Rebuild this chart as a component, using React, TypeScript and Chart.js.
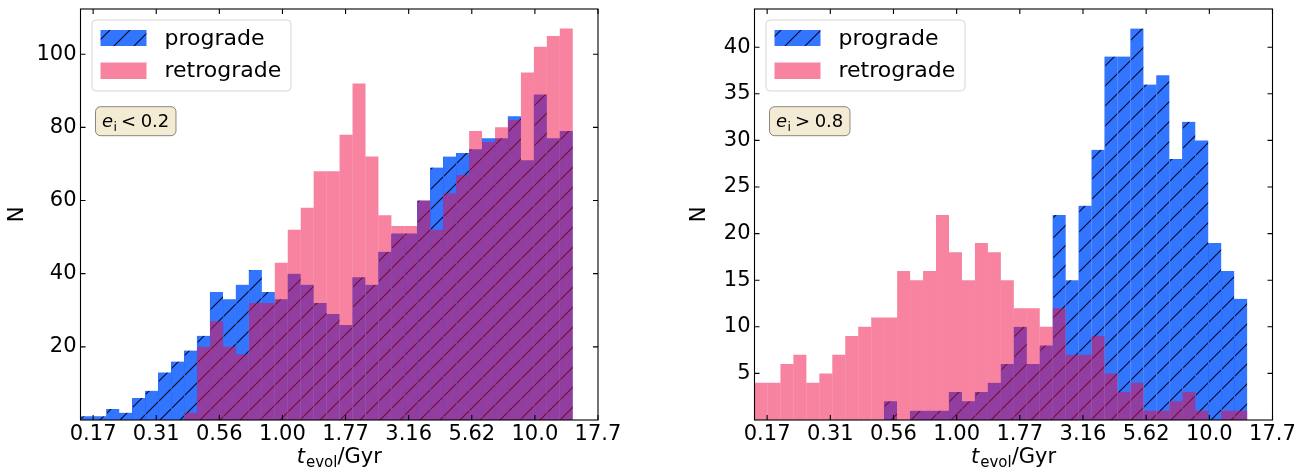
import React, { useEffect, useRef } from "react";
import { Chart, registerables } from "chart.js";

Chart.register(...registerables);

// Histogram bins in log10(t_evol / Gyr)
const BIN_START = -0.8;
const BIN_END = 1.15;
const BIN_COUNT = 38;

const X_MIN = -0.8;
const X_MAX = 1.25;
const xTickValues = [-0.75, -0.5, -0.25, 0, 0.25, 0.5, 0.75, 1.0, 1.25];
const xTickLabels = ["0.17", "0.31", "0.56", "1.00", "1.77", "3.16", "5.62", "10.0", "17.7"];

// Left panel: e_i < 0.2
const leftPrograde = [1, 1, 3, 2, 6, 8, 13, 16, 19, 23, 35, 33, 37, 41, 35, 33, 40, 37, 32, 29, 26, 39, 37, 46, 51, 51, 60, 69, 72, 73, 74, 77, 77, 83, 71, 89, 77, 79];
const leftRetrograde = [0, 0, 0, 0, 0, 0, 0, 0, 2, 20, 27, 20, 18, 32, 32, 43, 52, 58, 68, 68, 78, 92, 72, 56, 53, 53, 60, 52, 62, 67, 79, 76, 80, 82, 95, 102, 105, 107];
const leftYTicks = [20, 40, 60, 80, 100];
const leftYMax = 112.35;

// Right panel: e_i > 0.8
const rightPrograde = [0, 0, 0, 0, 0, 0, 0, 0, 0, 0, 2, 0, 1, 1, 1, 3, 2, 3, 4, 6, 10, 6, 8, 22, 15, 23, 29, 39, 39, 42, 36, 37, 28, 32, 30, 19, 16, 13];
const rightRetrograde = [4, 4, 6, 7, 4, 5, 7, 9, 10, 11, 11, 16, 15, 16, 22, 18, 15, 19, 18, 15, 12, 12, 10, 12, 7, 7, 9, 5, 3, 4, 1, 1, 2, 3, 1, 0, 1, 1];
const rightYTicks = [5, 10, 15, 20, 25, 30, 35, 40];
const rightYMax = 44.1;

const seriesLabels = ["prograde", "retrograde"];

const BLUE = "rgb(50,117,255)";
const BLUE_EDGE = "rgba(20,95,250,0.9)";
const PINK = "rgba(239,8,66,0.5)";
const FONT = '"DejaVu Sans", "Liberation Sans", sans-serif';
const W = 1303;
const H = 471;

type Panel = {
  canvasLeft: number;
  canvasWidth: number;
  areaLeft: number;
  areaRight: number;
  yMax: number;
  yTicks: number[];
  prograde: number[];
  retrograde: number[];
  rel: string;
  val: string;
};

const panels: Panel[] = [
  { canvasLeft: 0, canvasWidth: 651, areaLeft: 80.5, areaRight: 598, yMax: leftYMax, yTicks: leftYTicks, prograde: leftPrograde, retrograde: leftRetrograde, rel: "<", val: "0.2" },
  { canvasLeft: 651, canvasWidth: 652, areaLeft: 103.5, areaRight: 621.5, yMax: rightYMax, yTicks: rightYTicks, prograde: rightPrograde, retrograde: rightRetrograde, rel: ">", val: "0.8" },
];

const AREA_TOP = 9;
const AREA_BOTTOM = 420;

function binCenters(): number[] {
  const w = (BIN_END - BIN_START) / BIN_COUNT;
  const out: number[] = [];
  for (let i = 0; i < BIN_COUNT; i++) out.push(BIN_START + (i + 0.5) * w);
  return out;
}

function makeHatch(): CanvasPattern | string {
  const c = document.createElement("canvas");
  c.width = 100;
  c.height = 100;
  const g = c.getContext("2d");
  if (!g) return BLUE;
  g.fillStyle = BLUE;
  g.fillRect(0, 0, 100, 100);
  g.strokeStyle = "rgba(0,0,20,0.95)";
  g.lineWidth = 1.1;
  for (let k = -6; k <= 16; k++) {
    const cst = k * 20;
    g.beginPath();
    g.moveTo(cst - 150, 150);
    g.lineTo(cst + 150, -150);
    g.stroke();
  }
  const p = g.createPattern(c, "repeat");
  return p || BLUE;
}

function roundRect(ctx: CanvasRenderingContext2D, x: number, y: number, w: number, h: number, r: number) {
  ctx.beginPath();
  ctx.moveTo(x + r, y);
  ctx.lineTo(x + w - r, y);
  ctx.arcTo(x + w, y, x + w, y + r, r);
  ctx.lineTo(x + w, y + h - r);
  ctx.arcTo(x + w, y + h, x + w - r, y + h, r);
  ctx.lineTo(x + r, y + h);
  ctx.arcTo(x, y + h, x, y + h - r, r);
  ctx.lineTo(x, y + r);
  ctx.arcTo(x, y, x + r, y, r);
  ctx.closePath();
}

function PanelChart({ panel }: { panel: Panel }) {
  const ref = useRef<HTMLCanvasElement | null>(null);
  useEffect(() => {
    const canvas = ref.current;
    if (!canvas) return;
    const hatch = makeHatch();
    const centers = binCenters();

    const decor = {
      id: "decor",
      afterDatasetsDraw(chart: any) {
        const ctx: CanvasRenderingContext2D = chart.ctx;
        const ca = chart.chartArea;
        const xs = chart.scales.x;
        const ys = chart.scales.y;
        ctx.save();
        // frame
        ctx.strokeStyle = "#000";
        ctx.lineWidth = 1.1;
        ctx.strokeRect(ca.left, ca.top, ca.right - ca.left, ca.bottom - ca.top);
        // inward ticks
        const TL = 5;
        ctx.beginPath();
        for (const v of xTickValues) {
          const px = xs.getPixelForValue(v);
          ctx.moveTo(px, ca.bottom);
          ctx.lineTo(px, ca.bottom - TL);
          ctx.moveTo(px, ca.top);
          ctx.lineTo(px, ca.top + TL);
        }
        for (const v of panel.yTicks) {
          const py = ys.getPixelForValue(v);
          ctx.moveTo(ca.left, py);
          ctx.lineTo(ca.left + TL, py);
          ctx.moveTo(ca.right, py);
          ctx.lineTo(ca.right - TL, py);
        }
        ctx.stroke();

        const L = ca.left;
        const T = ca.top;
        // legend
        roundRect(ctx, L + 11.5, T + 11, 199, 71, 4);
        ctx.fillStyle = "rgba(255,255,255,0.8)";
        ctx.fill();
        ctx.strokeStyle = "rgba(204,204,204,0.8)";
        ctx.lineWidth = 1;
        ctx.stroke();
        ctx.fillStyle = hatch as any;
        ctx.fillRect(L + 20, T + 21, 46, 16);
        ctx.fillStyle = PINK;
        ctx.fillRect(L + 20, T + 53.5, 46, 16.5);
        ctx.fillStyle = "#000";
        ctx.font = `22px ${FONT}`;
        ctx.textBaseline = "alphabetic";
        ctx.textAlign = "left";
        ctx.fillText(chart.data.datasets[1].label, L + 84, T + 36.3);
        ctx.fillText(chart.data.datasets[0].label, L + 84, T + 68.3);

        // annotation box
        roundRect(ctx, L + 15, T + 97.7, 80.5, 29, 5);
        ctx.fillStyle = "rgb(243,235,212)";
        ctx.fill();
        ctx.strokeStyle = "rgba(0,0,0,0.45)";
        ctx.lineWidth = 1;
        ctx.stroke();
        ctx.fillStyle = "#000";
        let tx = L + 21.5;
        const tb = T + 118;
        ctx.font = `italic 18px ${FONT}`;
        ctx.fillText("e", tx, tb);
        tx += ctx.measureText("e").width;
        ctx.font = `12.5px ${FONT}`;
        ctx.fillText("i", tx + 0.5, tb + 3.5);
        tx += ctx.measureText("i").width + 4.5;
        ctx.font = `18px ${FONT}`;
        ctx.fillText(panel.rel, tx, tb);
        tx += ctx.measureText(panel.rel).width + 4.5;
        ctx.fillText(panel.val, tx, tb);

        // y title
        ctx.save();
        ctx.translate(panel.canvasLeft === 0 ? 18 : 700 - panel.canvasLeft, (ca.top + ca.bottom) / 2);
        ctx.rotate(-Math.PI / 2);
        ctx.font = `21px ${FONT}`;
        ctx.textAlign = "center";
        ctx.textBaseline = "middle";
        ctx.fillText("N", 0, 0);
        ctx.restore();

        // x title: t_evol/Gyr
        const big = `21px ${FONT}`;
        const bigIt = `italic 21px ${FONT}`;
        const small = `15px ${FONT}`;
        ctx.font = bigIt;
        const w1 = ctx.measureText("t").width;
        ctx.font = small;
        const w2 = ctx.measureText("evol").width;
        ctx.font = big;
        const w3 = ctx.measureText("/Gyr").width;
        const total = w1 + 1 + w2 + w3;
        let x0 = (ca.left + ca.right) / 2 - total / 2;
        const base = 463;
        ctx.textAlign = "left";
        ctx.textBaseline = "alphabetic";
        ctx.font = bigIt;
        ctx.fillText("t", x0, base);
        x0 += w1 + 1;
        ctx.font = small;
        ctx.fillText("evol", x0, base + 4);
        x0 += w2;
        ctx.font = big;
        ctx.fillText("/Gyr", x0, base);
        ctx.restore();
      },
    };

    const chart = new Chart(canvas, {
      type: "bar",
      data: {
        datasets: [
          {
            label: seriesLabels[1],
            data: centers.map((x, i) => ({ x, y: panel.retrograde[i] })),
            backgroundColor: PINK,
            borderWidth: 0,
            inflateAmount: 0,
            grouped: false,
            order: 0,
            barPercentage: 1,
            categoryPercentage: 1,
          },
          {
            label: seriesLabels[0],
            data: centers.map((x, i) => ({ x, y: panel.prograde[i] })),
            backgroundColor: hatch as any,
            borderColor: BLUE_EDGE,
            borderWidth: { left: 1, right: 0, top: 0, bottom: 0 },
            borderSkipped: false,
            grouped: false,
            order: 1,
            barPercentage: 1,
            categoryPercentage: 1,
          },
        ],
      } as any,
      options: {
        animation: false,
        responsive: false,
        maintainAspectRatio: false,
        devicePixelRatio: 1,
        layout: { padding: { top: AREA_TOP, left: 0, bottom: 0, right: panel.canvasWidth - panel.areaRight } },
        plugins: { legend: { display: false }, tooltip: { enabled: false } },
        scales: {
          x: {
            type: "linear",
            min: X_MIN,
            max: X_MAX,
            offset: false,
            grid: { display: false, drawTicks: false },
            border: { display: false },
            afterBuildTicks: (s: any) => {
              s.ticks = xTickValues.map((v) => ({ value: v }));
            },
            afterFit: (s: any) => {
              s.height = H - AREA_BOTTOM;
              s.paddingLeft = 0;
              s.paddingRight = 0;
            },
            ticks: {
              autoSkip: false,
              maxRotation: 0,
              padding: 2,
              color: "#000",
              font: { family: FONT, size: 21 },
              callback: (_v: any, i: number) => xTickLabels[i],
            },
          },
          y: {
            type: "linear",
            min: 0,
            max: panel.yMax,
            grid: { display: false, drawTicks: false },
            border: { display: false },
            afterBuildTicks: (s: any) => {
              s.ticks = panel.yTicks.map((v) => ({ value: v }));
            },
            afterFit: (s: any) => {
              s.width = panel.areaLeft;
              s.paddingTop = 0;
              s.paddingBottom = 0;
            },
            ticks: {
              autoSkip: false,
              padding: 4,
              color: "#000",
              font: { family: FONT, size: 21 },
              callback: (v: any) => String(v),
            },
          },
        },
      } as any,
      plugins: [decor as any],
    });
    return () => chart.destroy();
  }, [panel]);

  return (
    <canvas
      ref={ref}
      width={panel.canvasWidth}
      height={H}
      style={{ position: "absolute", left: panel.canvasLeft, top: 0, width: panel.canvasWidth, height: H }}
    />
  );
}

export default function App() {
  return (
    <div style={{ position: "fixed", left: 0, top: 0, width: W, height: H, background: "#fff" }}>
      {panels.map((p, i) => (
        <PanelChart key={i} panel={p} />
      ))}
    </div>
  );
}
